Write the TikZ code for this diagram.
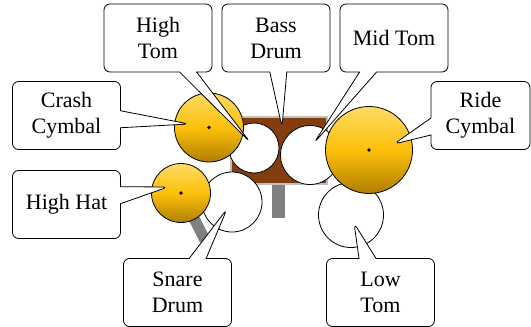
\documentclass[tikz,border=0pt]{standalone}
\usepackage{fontspec}
\setmainfont{Liberation Serif}
\usetikzlibrary{shapes.callouts,shadings}
\definecolor{kitbrown}{RGB}{131,61,14}
\definecolor{standgray}{RGB}{128,128,128}
\definecolor{cymtop}{RGB}{255,218,100}
\definecolor{cymmid}{RGB}{252,192,10}
\definecolor{cymbot}{RGB}{176,126,0}
\begin{document}
\begin{tikzpicture}[x=1pt,y=-1pt,
  drum/.style={circle,draw,fill=white,line width=0.8pt,inner sep=0pt,minimum size=#1},
  cymbal/.style={circle,draw,line width=0.8pt,inner sep=0pt,minimum size=#1,
    top color=cymtop,bottom color=cymbot,middle color=cymmid},
  hub/.style={circle,fill=black,inner sep=0pt,minimum size=3.6pt},
  tag/.style={rectangle callout,draw,fill=white,rounded corners=6pt,line width=0.8pt,
    minimum width=108pt,minimum height=68pt,inner sep=0pt,align=center,
    font=\fontsize{22}{26}\selectfont,callout pointer width=17pt}
]
\useasboundingbox (0,0) rectangle (531,327);

% stands
\fill[standgray] (272,184) rectangle (285,218);
\coordinate (hhc) at (181,193);
\coordinate (hhfoot) at (205,240);
\draw[standgray,line width=11pt] (hhc) -- (hhfoot);

% bass drum
\node[rectangle,fill=kitbrown,draw=gray!50,line width=1.2pt,inner sep=0pt,
  minimum width=96pt,minimum height=67pt] (bass) at (279,150.5) {};

% drums
\node[drum=50pt] (htom) at (254,148) {};
\node[drum=59pt] (mtom) at (310,155) {};
\node[drum=60pt] (snare) at (232,202) {};
\node[drum=65pt] (ltom) at (351,215) {};

% cymbals
\node[cymbal=69pt] (crash) at (209,127.5) {};
\node[hub] at (crash.center) {};
\node[cymbal=59pt] (hihat) at (hhc) {};
\node[hub] at (hihat.center) {};
\node[cymbal=87pt] (ride) at (369,150) {};
\node[hub] at (ride.center) {};

% pointer tips
\coordinate (tHT) at (250,142);
\coordinate (tBD) at (282,127);
\coordinate (tMT) at (314,143);
\coordinate (tCC) at (189,124);
\coordinate (tRC) at (394,144);
\coordinate (tHH) at (168,187);
\coordinate (tSD) at (227,209);
\coordinate (tLT) at (354,223);

% labels
\node[tag,callout absolute pointer={(tHT)}] (lHT) at (158,38) {High\\Tom};
\node[tag,callout absolute pointer={(tBD)}] (lBD) at (276,38) {Bass\\Drum};
\node[tag,callout absolute pointer={(tMT)}] (lMT) at (394,38) {Mid Tom};
\node[tag,callout absolute pointer={(tCC)}] (lCC) at (66.5,115.5) {Crash\\Cymbal};
\node[tag,minimum width=99pt,callout absolute pointer={(tRC)}] (lRC) at (480.5,115.5) {Ride\\Cymbal};
\node[tag,callout absolute pointer={(tHH)}] (lHH) at (66.5,204.5) {High Hat};
\node[tag,callout absolute pointer={(tSD)}] (lSD) at (177.5,292.5) {Snare\\Drum};
\node[tag,callout absolute pointer={(tLT)}] (lLT) at (380.5,292.5) {Low\\Tom};
\end{tikzpicture}
\end{document}
